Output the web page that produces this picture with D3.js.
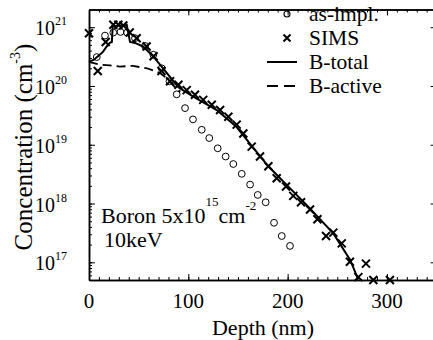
<!DOCTYPE html>
<html>
<head>
<meta charset="utf-8">
<script src="https://cdn.jsdelivr.net/npm/d3@7"></script>
<style>
  body { margin: 0; background: #fff; }
  svg { display: block; }
  text { font-family: "Liberation Serif", "Times New Roman", serif; fill: #000; }
</style>
</head>
<body>
<svg id="chart"></svg>
<script>
const w = 433;
const h = 340;

// as-implanted profile (circles)
const implDepth = [7.8, 16.1, 24.5, 31.7, 38.3, 46.3, 56.4, 64.8, 73.2, 81, 88.3, 96.7, 104.7, 113.5, 121.1, 129.6, 137.6, 145.3, 153.8, 162.2, 169.9, 177.9, 186.3, 194.1, 202.4];
const implConc = [3.1e20, 7.2e20, 8.1e20, 8.3e20, 8.1e20, 6.5e20, 4.8e20, 3.4e20, 2.0e20, 1.2e20, 7.2e19, 4.2e19, 2.7e19, 1.8e19, 1.3e19, 8.7e18, 6.3e18, 4.7e18, 3.2e18, 2.1e18, 1.4e18, 1.05e18, 4.7e17, 2.8e17, 1.9e17];

// SIMS (crosses)
const simsDepth = [0, 8.8, 16.8, 24.5, 29.5, 34.5, 41, 48, 58, 65, 73, 81.6, 90, 98.4, 106.7, 115, 123.6, 132, 140.3, 148.7, 155.4, 163.8, 172.2, 180.6, 189, 198.4, 205.7, 213.5, 222.6, 230, 238.7, 246, 254.5, 262.7, 271.2, 278.9, 286.3, 303];
const simsConc = [7.9e20, 1.8e20, 5.6e20, 1.1e21, 1.1e21, 1.07e21, 8.1e20, 6.5e20, 4.7e20, 3.2e20, 1.8e20, 1.2e20, 1.05e20, 8.5e19, 7.1e19, 5.8e19, 4.8e19, 3.9e19, 3.0e19, 2.2e19, 1.55e19, 9.3e18, 6.3e18, 4.3e18, 2.7e18, 1.95e18, 1.35e18, 1.05e18, 7.9e17, 5.4e17, 2.8e17, 3.2e17, 2.1e17, 1.02e17, 5.6e16, 9.5e16, 5e16, 5e16];

// simulated total boron (solid)
const totalDepth = [0, 5, 9, 14, 17.8, 21, 23, 24, 27, 31, 35, 38, 41.3, 46.3, 54.4, 63.1, 71.5, 79.9, 90, 105, 128.6, 148.7, 162, 180.6, 200, 220.5, 246, 263, 271];
const totalConc = [2.57e20, 2.8e20, 3.2e20, 3.8e20, 4.7e20, 5.4e20, 5.6e20, 1.1e21, 1.02e21, 1.08e21, 1.05e21, 1.1e21, 5.6e20, 5.4e20, 4.7e20, 3.4e20, 2.3e20, 1.55e20, 9.5e19, 6.6e19, 3.9e19, 2.0e19, 1.05e19, 4.3e18, 2.0e18, 8.9e17, 3.1e17, 1.1e17, 5.1e16];

// simulated active boron (dashed)
const activeDepth = [0, 11, 21, 31, 44, 58.4, 71.5, 78.6, 86.6, 92];
const activeConc = [2.57e20, 2.3e20, 2.24e20, 2.14e20, 2.2e20, 2.0e20, 1.66e20, 1.35e20, 9.5e19, 8.0e19];

const xTicks = [0, 100, 200, 300];
const yTickExp = [17, 18, 19, 20, 21];
const legendLabels = ["as-impl.", "SIMS", "B-total", "B-active"];

const pLeft = 89, pRight = 436.6, pTop = 9.5, pBottom = 280;

const svg = d3.select("#chart")
  .attr("width", w)
  .attr("height", h);

const xScale = d3.scaleLinear().domain([0, 350]).range([pLeft, pRight]);
const yScale = d3.scaleLog().domain([5e16, 2e21]).range([pBottom, pTop]);

// minor/major tick values
const xMinor = d3.range(0, 351, 10);
const yMinor = [];
for (let e = 16; e <= 21; e++) {
  for (let m = 1; m <= 9; m++) {
    const v = m * Math.pow(10, e);
    if (v >= 5e16 && v <= 2e21) yMinor.push(v);
  }
}

function frameAxis(axis, tr) {
  return svg.append("g").attr("transform", tr).call(axis)
    .call(g => g.select(".domain").attr("stroke-width", 1.5))
    .call(g => g.selectAll("text").remove())
    .call(g => g.selectAll("line").attr("stroke-width", 1));
}

// minor ticks
frameAxis(d3.axisBottom(xScale).tickValues(xMinor).tickSize(-3).tickSizeOuter(0), `translate(0,${pBottom})`);
frameAxis(d3.axisTop(xScale).tickValues(xMinor).tickSize(-3).tickSizeOuter(0), `translate(0,${pTop})`);
frameAxis(d3.axisLeft(yScale).tickValues(yMinor).tickSize(-3).tickSizeOuter(0), `translate(${pLeft},0)`);
frameAxis(d3.axisRight(yScale).tickValues(yMinor).tickSize(-3).tickSizeOuter(0), `translate(${pRight},0)`);
// major ticks
frameAxis(d3.axisBottom(xScale).tickValues(xTicks).tickSize(-6).tickSizeOuter(0), `translate(0,${pBottom})`);
frameAxis(d3.axisTop(xScale).tickValues(xTicks).tickSize(-6).tickSizeOuter(0), `translate(0,${pTop})`);
frameAxis(d3.axisLeft(yScale).tickValues(yTickExp.map(e => Math.pow(10, e))).tickSize(-6).tickSizeOuter(0), `translate(${pLeft},0)`);
frameAxis(d3.axisRight(yScale).tickValues(yTickExp.map(e => Math.pow(10, e))).tickSize(-6).tickSizeOuter(0), `translate(${pRight},0)`);

// x tick labels
svg.append("g").selectAll("text").data(xTicks).join("text")
  .attr("x", d => xScale(d))
  .attr("y", pBottom + 28)
  .attr("text-anchor", "middle")
  .attr("font-size", 21)
  .text(d => d);

// y tick labels 10^n
const yl = svg.append("g").selectAll("text").data(yTickExp).join("text")
  .attr("x", 35)
  .attr("y", d => yScale(Math.pow(10, d)) + 8)
  .attr("font-size", 20);
yl.append("tspan").text("10");
yl.append("tspan").attr("font-size", 12).attr("dy", -10).text(d => d);

// axis titles
svg.append("text")
  .attr("x", 263).attr("y", 335)
  .attr("text-anchor", "middle")
  .attr("font-size", 22)
  .text("Depth (nm)");

const yt = svg.append("text")
  .attr("transform", "translate(32,147) rotate(-90)")
  .attr("text-anchor", "middle")
  .attr("font-size", 25);
yt.append("tspan").text("Concentration (cm");
yt.append("tspan").attr("font-size", 14).attr("dy", -12).text("-3");
yt.append("tspan").attr("dy", 12).text(")");

// lines
const line = d3.line().x(d => xScale(d[0])).y(d => yScale(d[1]));

svg.append("path")
  .datum(activeDepth.map((d, i) => [d, activeConc[i]]))
  .attr("fill", "none").attr("stroke", "#000").attr("stroke-width", 1.8)
  .attr("stroke-dasharray", "9,5")
  .attr("d", line);

svg.append("path")
  .datum(totalDepth.map((d, i) => [d, totalConc[i]]))
  .attr("fill", "none").attr("stroke", "#000").attr("stroke-width", 2)
  .attr("d", line);

// circles
svg.append("g").selectAll("circle").data(implDepth).join("circle")
  .attr("cx", d => xScale(d))
  .attr("cy", (d, i) => yScale(implConc[i]))
  .attr("r", 3.4)
  .attr("fill", "none").attr("stroke", "#000").attr("stroke-width", 1);

// crosses
const cross = (x, y, s) => `M${x - s},${y - s}L${x + s},${y + s}M${x - s},${y + s}L${x + s},${y - s}`;
svg.append("g").selectAll("path").data(simsDepth).join("path")
  .attr("d", (d, i) => cross(xScale(d), yScale(simsConc[i]), 4))
  .attr("stroke", "#000").attr("stroke-width", 2);

// annotation
const ann = svg.append("text").attr("x", 101).attr("y", 223).attr("font-size", 22);
ann.append("tspan").text("Boron 5x10");
ann.append("tspan").attr("font-size", 13).attr("dy", -17).text("15");
ann.append("tspan").attr("dy", 17).text("cm");
ann.append("tspan").attr("font-size", 13).attr("dy", -13).text("-2");
svg.append("text").attr("x", 104).attr("y", 247).attr("font-size", 22).text("10keV");

// legend
const lg = svg.append("g");
const rowsY = [14, 38, 62, 86];
lg.append("circle").attr("cx", 287).attr("cy", rowsY[0]).attr("r", 3)
  .attr("fill", "none").attr("stroke", "#000").attr("stroke-width", 1.1);
lg.append("path").attr("d", cross(287, rowsY[1], 3.5)).attr("stroke", "#000").attr("stroke-width", 2);
lg.append("line").attr("x1", 267).attr("x2", 297).attr("y1", rowsY[2]).attr("y2", rowsY[2])
  .attr("stroke", "#000").attr("stroke-width", 2);
lg.append("line").attr("x1", 267).attr("x2", 297).attr("y1", rowsY[3]).attr("y2", rowsY[3])
  .attr("stroke", "#000").attr("stroke-width", 1.8).attr("stroke-dasharray", "11,6");
lg.selectAll("text").data(legendLabels).join("text")
  .attr("x", 309)
  .attr("y", (d, i) => rowsY[i] + 7)
  .attr("font-size", 21.5)
  .text(d => d);
</script>
</body>
</html>
